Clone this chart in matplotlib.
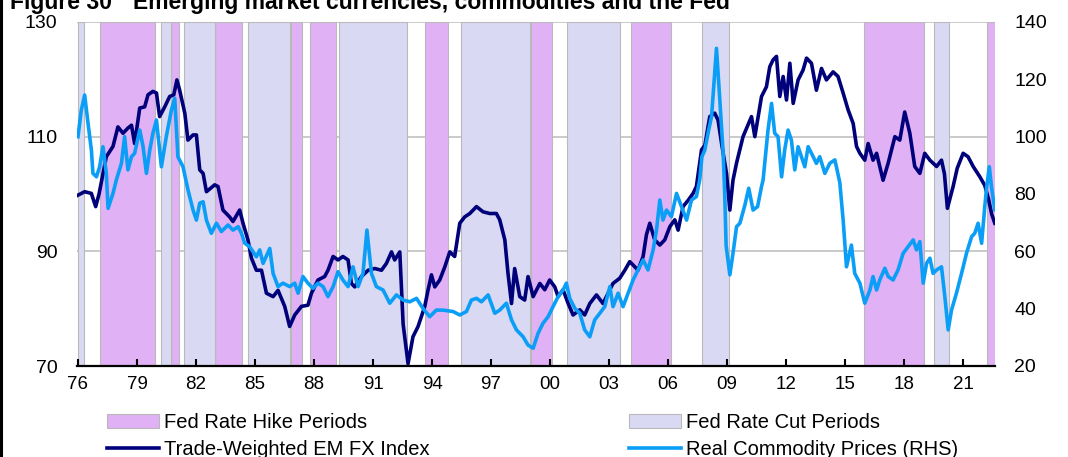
import matplotlib
matplotlib.use('Agg')
import matplotlib.pyplot as plt
from matplotlib.patches import Patch
from matplotlib.lines import Line2D

plt.rcParams['font.family'] = ['Liberation Sans', 'DejaVu Sans']

# Trade-weighted EM FX index (left axis)
em_years = [1976.00, 1976.34, 1976.68, 1976.90, 1977.07, 1977.44, 1977.78, 1978.03, 1978.29, 1978.54,
            1978.72, 1978.88, 1979.14, 1979.39, 1979.56, 1979.81, 1979.99, 1980.15, 1980.41, 1980.66,
            1980.87, 1981.03, 1981.17, 1981.43, 1981.59, 1981.85, 1982.02, 1982.19, 1982.36, 1982.53,
            1982.95, 1983.12, 1983.37, 1983.71, 1983.88, 1984.22, 1984.39, 1984.64, 1984.82, 1985.07,
            1985.33, 1985.58, 1985.92, 1986.17, 1986.51, 1986.76, 1987.02, 1987.36, 1987.69, 1987.87,
            1988.20, 1988.54, 1988.71, 1988.97, 1989.22, 1989.47, 1989.73, 1989.90, 1990.07, 1990.41,
            1990.75, 1991.09, 1991.43, 1991.68, 1991.94, 1992.10, 1992.36, 1992.53, 1992.78, 1993.03,
            1993.29, 1993.63, 1993.80, 1993.97, 1994.14, 1994.39, 1994.65, 1994.90, 1995.15, 1995.41,
            1995.66, 1995.92, 1996.26, 1996.59, 1996.93, 1997.27, 1997.44, 1997.70, 1997.86, 1998.04,
            1998.20, 1998.46, 1998.71, 1998.88, 1999.14, 1999.48, 1999.73, 1999.98, 2000.24, 2000.41,
            2000.66, 2000.92, 2001.17, 2001.51, 2001.76, 2002.02, 2002.36, 2002.69, 2002.95, 2003.20,
            2003.54, 2003.80, 2004.05, 2004.31, 2004.47, 2004.73, 2004.90, 2005.07, 2005.32, 2005.58,
            2005.83, 2006.09, 2006.34, 2006.51, 2006.76, 2007.02, 2007.27, 2007.44, 2007.57, 2007.70,
            2007.87, 2008.12, 2008.37, 2008.54, 2008.72, 2008.97, 2009.14, 2009.30, 2009.48, 2009.81,
            2010.24, 2010.41, 2010.75, 2011.00, 2011.17, 2011.34, 2011.51, 2011.68, 2011.85, 2012.02,
            2012.19, 2012.36, 2012.61, 2012.86, 2013.04, 2013.29, 2013.54, 2013.80, 2014.05, 2014.39,
            2014.64, 2014.90, 2015.15, 2015.41, 2015.58, 2015.75, 2016.00, 2016.17, 2016.42, 2016.60,
            2016.93, 2017.19, 2017.53, 2017.78, 2018.03, 2018.29, 2018.54, 2018.80, 2019.05, 2019.31,
            2019.65, 2019.90, 2020.05, 2020.20, 2020.49, 2020.70, 2021.00, 2021.25, 2021.51, 2021.85,
            2022.10, 2022.30, 2022.45, 2022.61]
em_values = [99.8, 100.4, 100.1, 97.8, 100.0, 106.5, 108.3, 111.7, 110.6, 111.5,
             112.0, 108.8, 115.0, 115.2, 117.3, 117.9, 117.6, 113.5, 115.2, 117.0,
             117.3, 119.9, 118.1, 114.1, 109.4, 110.3, 110.3, 104.2, 103.6, 100.4,
             101.6, 101.3, 97.2, 96.0, 95.2, 97.2, 94.9, 92.0, 88.8, 86.7,
             86.7, 82.7, 82.1, 83.2, 80.4, 76.9, 78.9, 80.4, 80.6, 82.7,
             85.0, 85.6, 86.7, 89.1, 88.5, 89.1, 88.5, 84.4, 83.8, 85.6,
             86.7, 87.0, 86.7, 87.9, 89.9, 88.5, 89.9, 77.3, 70.4, 75.1,
             76.9, 80.4, 83.3, 85.9, 83.8, 85.0, 87.3, 89.9, 89.1, 94.9,
             96.0, 96.6, 97.8, 96.9, 96.6, 96.6, 95.5, 92.0, 86.2, 80.9,
             87.0, 82.1, 81.5, 85.6, 82.1, 84.4, 83.3, 85.0, 83.8, 82.1,
             83.3, 80.9, 78.9, 79.8, 78.9, 80.9, 82.4, 80.9, 82.7, 84.4,
             85.3, 86.7, 88.2, 87.3, 86.7, 89.1, 92.9, 94.9, 92.0, 91.1,
             92.0, 94.3, 95.5, 93.7, 97.8, 98.9, 100.1, 101.3, 104.5, 107.7,
             108.5, 113.5, 114.1, 112.9, 108.8, 103.6, 97.2, 102.4, 105.4, 110.0,
             113.5, 110.0, 117.0, 118.7, 122.2, 123.4, 124.0, 117.0, 120.5, 116.4,
             122.8, 115.8, 119.9, 121.6, 123.7, 122.8, 118.1, 121.9, 119.9, 121.3,
             120.5, 117.6, 114.7, 112.3, 108.3, 107.1, 105.9, 108.8, 105.9, 107.1,
             102.4, 105.4, 110.0, 109.4, 114.3, 110.6, 104.8, 103.6, 107.1, 105.9,
             104.8, 105.9, 103.5, 97.5, 101.3, 104.5, 107.1, 106.5, 104.8, 103.0,
             101.5, 99.0, 96.5, 94.9]

# Real commodity prices (right axis)
com_years = [1976.00, 1976.17, 1976.34, 1976.51, 1976.68, 1976.76, 1976.94, 1977.10, 1977.27, 1977.44,
             1977.53, 1977.78, 1977.95, 1978.21, 1978.37, 1978.54, 1978.72, 1978.88, 1979.14, 1979.31,
             1979.48, 1979.65, 1979.81, 1979.99, 1980.24, 1980.49, 1980.75, 1980.92, 1981.08, 1981.34,
             1981.59, 1981.85, 1982.02, 1982.19, 1982.36, 1982.53, 1982.78, 1983.04, 1983.29, 1983.63,
             1983.88, 1984.14, 1984.31, 1984.48, 1984.73, 1985.07, 1985.24, 1985.41, 1985.75, 1985.92,
             1986.17, 1986.42, 1986.76, 1987.02, 1987.19, 1987.44, 1987.69, 1987.95, 1988.20, 1988.46,
             1988.71, 1988.97, 1989.22, 1989.47, 1989.73, 1989.98, 1990.24, 1990.49, 1990.69, 1990.92,
             1991.17, 1991.51, 1991.85, 1992.19, 1992.53, 1992.87, 1993.21, 1993.54, 1993.88, 1994.22,
             1994.56, 1995.07, 1995.41, 1995.75, 1996.00, 1996.26, 1996.51, 1996.85, 1997.19, 1997.44,
             1997.78, 1998.04, 1998.29, 1998.63, 1998.88, 1999.14, 1999.39, 1999.64, 1999.90, 2000.15,
             2000.41, 2000.66, 2000.83, 2001.00, 2001.26, 2001.51, 2001.76, 2002.02, 2002.27, 2002.53,
             2002.78, 2003.04, 2003.20, 2003.46, 2003.71, 2003.97, 2004.22, 2004.47, 2004.73, 2004.98,
             2005.24, 2005.41, 2005.58, 2005.74, 2005.92, 2006.17, 2006.43, 2006.68, 2006.94, 2007.19,
             2007.44, 2007.61, 2007.72, 2007.87, 2008.03, 2008.21, 2008.46, 2008.63, 2008.80, 2008.88,
             2008.95, 2009.14, 2009.30, 2009.48, 2009.65, 2009.90, 2010.10, 2010.32, 2010.55, 2010.75,
             2010.83, 2011.08, 2011.26, 2011.42, 2011.59, 2011.77, 2011.93, 2012.10, 2012.27, 2012.44,
             2012.61, 2012.78, 2012.95, 2013.12, 2013.29, 2013.54, 2013.71, 2013.97, 2014.22, 2014.48,
             2014.73, 2014.90, 2015.07, 2015.32, 2015.49, 2015.75, 2016.00, 2016.26, 2016.42, 2016.60,
             2016.76, 2017.02, 2017.19, 2017.44, 2017.69, 2017.95, 2018.20, 2018.46, 2018.63, 2018.80,
             2018.97, 2019.14, 2019.31, 2019.47, 2019.65, 2019.90, 2020.07, 2020.24, 2020.41, 2020.66,
             2020.92, 2021.17, 2021.43, 2021.59, 2021.76, 2021.94, 2022.10, 2022.19, 2022.33, 2022.45,
             2022.61]
com_values = [100.0, 109.3, 114.5, 104.7, 95.4, 87.2, 86.0, 89.5, 96.5, 87.2,
              75.0, 80.2, 84.9, 90.7, 100.0, 88.4, 93.0, 94.2, 102.3, 96.5,
              87.2, 95.4, 101.2, 105.8, 89.5, 100.0, 109.3, 113.4, 93.0, 89.5,
              81.5, 74.4, 70.9, 76.8, 77.3, 70.9, 66.3, 69.8, 66.9, 69.2,
              67.4, 68.6, 66.3, 62.8, 61.6, 58.1, 60.5, 55.8, 61.0, 52.3,
              47.7, 48.9, 47.7, 48.9, 45.4, 51.2, 48.9, 47.1, 48.9, 47.7,
              44.2, 47.7, 52.9, 50.0, 47.7, 54.6, 47.7, 52.3, 67.4, 52.3,
              47.7, 46.5, 41.9, 44.8, 43.0, 42.4, 43.6, 40.1, 37.2, 39.5,
              39.5, 39.0, 37.8, 39.0, 43.0, 43.6, 42.4, 44.8, 38.4, 39.5,
              41.9, 36.1, 32.6, 30.2, 27.3, 26.2, 31.4, 34.9, 37.2, 40.7,
              44.2, 46.5, 48.9, 43.6, 40.1, 38.4, 32.6, 30.2, 36.1, 38.4,
              40.7, 47.7, 40.7, 45.4, 40.7, 45.4, 50.0, 53.5, 57.0, 53.5,
              60.5, 67.4, 77.9, 70.9, 74.4, 72.1, 80.2, 75.6, 70.9, 77.9,
              79.1, 85.0, 93.0, 95.4, 101.2, 107.0, 130.8, 112.8, 94.2, 80.0,
              62.0, 51.8, 59.3, 68.6, 69.8, 76.0, 82.0, 74.4, 75.6, 82.6,
              84.9, 102.3, 111.6, 101.2, 100.0, 86.0, 95.4, 102.3, 98.8, 88.4,
              96.5, 93.0, 89.5, 96.5, 94.2, 90.7, 93.0, 87.2, 90.7, 91.9,
              84.0, 70.9, 54.6, 62.2, 52.3, 48.9, 41.9, 46.5, 51.2, 46.5,
              50.0, 54.1, 51.2, 50.0, 53.5, 59.3, 61.6, 64.0, 60.5, 63.4,
              48.9, 55.8, 57.6, 52.3, 53.5, 54.6, 44.2, 32.6, 39.5, 45.4,
              52.3, 59.3, 65.1, 66.3, 69.8, 62.8, 75.6, 82.0, 89.5, 82.0,
              74.5]

# Fed hiking and cutting periods (start, end)
hike_periods = [(1977.10, 1979.94), (1980.75, 1981.14), (1982.95, 1984.36), (1986.85, 1987.39),
                (1987.78, 1989.10), (1993.66, 1994.83), (1999.03, 2000.12), (2004.09, 2006.17),
                (2015.94, 2018.99), (2022.19, 2022.61)]
cut_periods = [(1976.00, 1976.31), (1980.24, 1980.75), (1981.37, 1982.95), (1984.64, 1986.76),
               (1989.27, 1992.75), (1995.47, 1998.98), (2000.86, 2003.56), (2007.70, 2009.10),
               (2019.53, 2020.26)]

tick_years = list(range(1976, 2022, 3))
tick_labels = ['76', '79', '82', '85', '88', '91', '94', '97', '00', '03', '06', '09', '12', '15', '18', '21']

HIKE = '#e1b1f5'
CUT = '#d9d9f3'
NAVY = '#00007a'
LIGHT = '#0b9ef7'
EDGE = '#b9b9b9'

fig = plt.figure(figsize=(10.68, 4.57), dpi=100)
ax = fig.add_axes([77 / 1068, 1 - 366 / 457, (995 - 77) / 1068, 344 / 457])
ax2 = ax.twinx()

ax.set_xlim(1975.95, 2022.62)
ax.set_ylim(70, 130)
ax2.set_ylim(20, 140)

for y in [90, 110, 130]:
    ax.axhline(y, color='#c6c6c6', lw=1.3, zorder=0)
for s, e in hike_periods:
    ax.axvspan(s, e, facecolor=HIKE, edgecolor=EDGE, lw=0.8, zorder=1)
for s, e in cut_periods:
    ax.axvspan(s, e, facecolor=CUT, edgecolor=EDGE, lw=0.8, zorder=1)

ax.plot(em_years, em_values, color=NAVY, lw=2.6, zorder=3)
ax2.plot(com_years, com_values, color=LIGHT, lw=2.6, zorder=3)

for a in (ax, ax2):
    for side in ['left', 'right', 'top']:
        a.spines[side].set_visible(False)
ax2.spines['bottom'].set_visible(False)
ax.spines['bottom'].set_linewidth(1.6)
ax.spines['bottom'].set_color('black')
ax.spines['bottom'].set_zorder(5)

ax.set_xticks(tick_years)
ax.set_xticklabels(tick_labels)
ax.set_yticks([70, 90, 110, 130])
ax2.set_yticks([20, 40, 60, 80, 100, 120, 140])

ax.tick_params(axis='x', direction='in', length=5, width=1.5, pad=7, labelsize=13.5, colors='black')
ax.tick_params(axis='y', length=0, pad=14, labelsize=14)
ax2.tick_params(axis='y', length=0, pad=14, labelsize=14)

# title, partly cut off at the top like the original
fig.text(10 / 1068, 1 - 9.5 / 457, 'Figure 30', fontsize=16.5, weight='bold', va='baseline')
fig.text(133 / 1068, 1 - 9.5 / 457, 'Emerging market currencies, commodities and the Fed',
         fontsize=16.5, weight='bold', va='baseline')

# left border
fig.add_artist(Line2D([0.0014, 0.0014], [0, 1], color='black', lw=2.2, transform=fig.transFigure))

legend_kw = dict(loc='upper left', frameon=False, fontsize=14.5, handlelength=2.6,
                 handletextpad=0.25, labelspacing=0.4, borderpad=0, borderaxespad=0)
fig.legend(handles=[Patch(facecolor=HIKE, edgecolor=EDGE, lw=0.8), Line2D([], [], color=NAVY, lw=2.6)],
           labels=['Fed Rate Hike Periods', 'Trade-Weighted EM FX Index'],
           bbox_to_anchor=(107 / 1068, 1 - 413 / 457), **legend_kw)
fig.legend(handles=[Patch(facecolor=CUT, edgecolor=EDGE, lw=0.8), Line2D([], [], color=LIGHT, lw=2.6)],
           labels=['Fed Rate Cut Periods', 'Real Commodity Prices (RHS)'],
           bbox_to_anchor=(629 / 1068, 1 - 413 / 457), **legend_kw)

fig.savefig('out.png', dpi=100)
